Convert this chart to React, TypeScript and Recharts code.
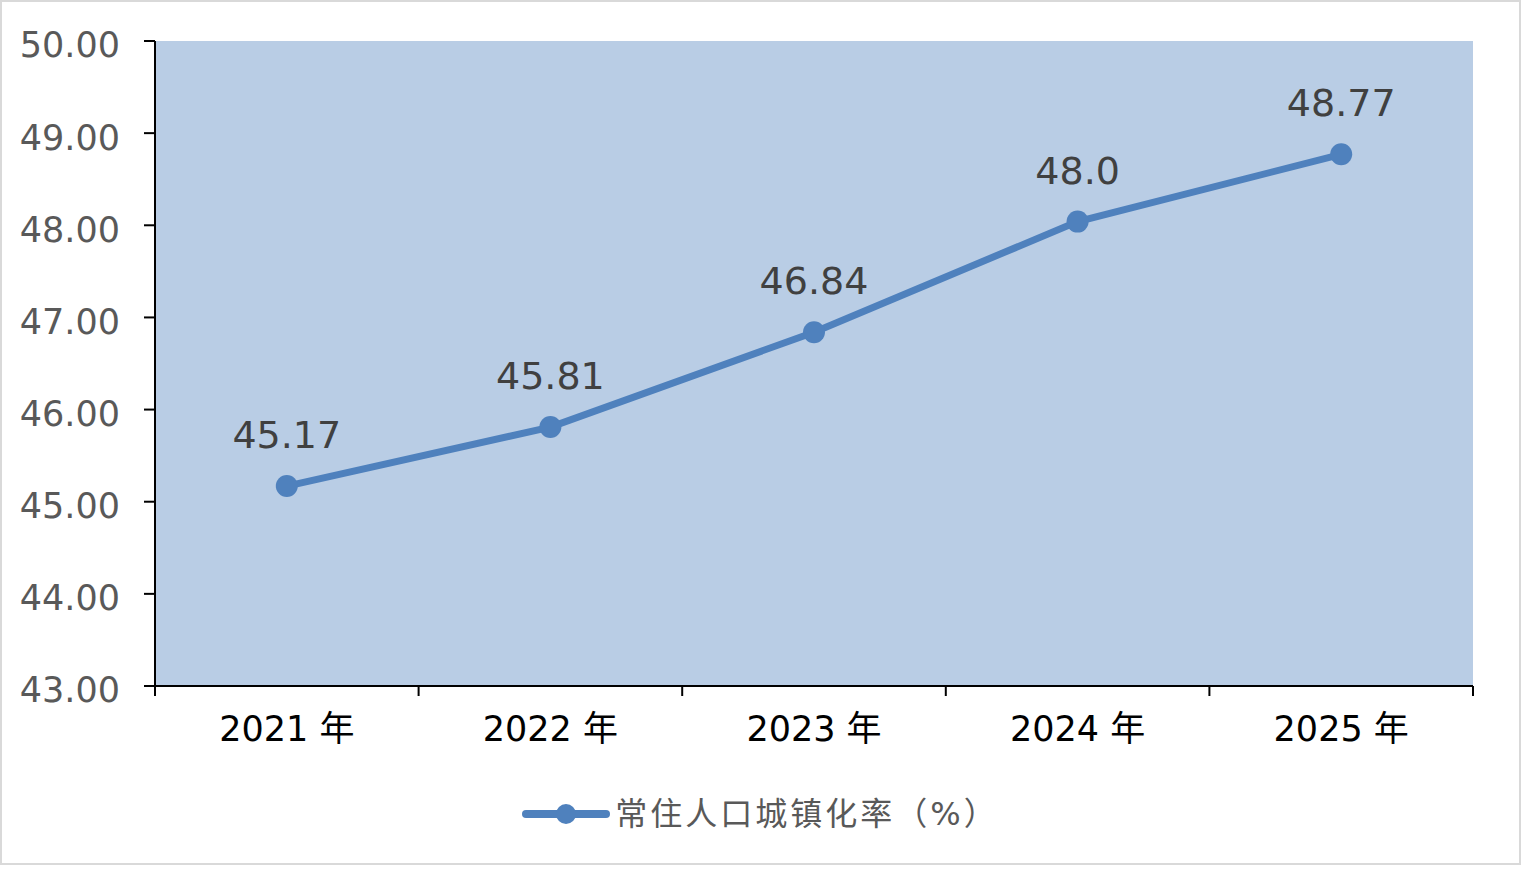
import React from 'react';
import { LineChart, Line, XAxis, YAxis, Legend, LabelList, CartesianGrid, Text } from 'recharts';

const years = ['2021 年', '2022 年', '2023 年', '2024 年', '2025 年'];
const rates = [45.17, 45.81, 46.84, 48.04, 48.77];
const rateLabels = ['45.17', '45.81', '46.84', '48.0', '48.77'];
const yTicks = [43, 44, 45, 46, 47, 48, 49, 50];
const seriesName = '常住人口城镇化率（%）';

const data = years.map((year, i) => ({ year, rate: rates[i], label: rateLabels[i] }));

const FONT = "'DejaVu Sans', 'Noto Sans CJK SC', sans-serif";
const BLUE = '#4f81bd';
const W = 1521;
const H = 865;

const CategoryTick = (props: any) => {
  const { x, y, payload, index, visibleTicksCount } = props;
  const half = payload && typeof payload.offset === 'number' ? payload.offset : 0;
  const axisY = y - 30;
  const isLast = index === (visibleTicksCount ?? years.length) - 1;
  return (
    <g>
      <line x1={x - half} y1={axisY} x2={x - half} y2={axisY + 10} stroke="#000" strokeWidth={2} />
      {isLast && <line x1={x + half} y1={axisY} x2={x + half} y2={axisY + 10} stroke="#000" strokeWidth={2} />}
      <Text x={x} y={y} textAnchor="middle" verticalAnchor="start" fill="#000" fontSize={35} fontFamily={FONT}>
        {payload.value}
      </Text>
    </g>
  );
};

const LegendContent = (props: any) => {
  const item = (props.payload && props.payload[0]) || { value: seriesName };
  return (
    <div style={{ display: 'flex', justifyContent: 'center', alignItems: 'center', height: 48 }}>
      <svg width={88} height={24} style={{ display: 'block' }}>
        <line x1={4} y1={12} x2={84} y2={12} stroke={BLUE} strokeWidth={8} strokeLinecap="round" />
        <circle cx={44} cy={12} r={10} fill={BLUE} />
      </svg>
      <span
        style={{
          marginLeft: 5,
          fontSize: 32,
          letterSpacing: 3,
          color: '#595959',
          fontFamily: FONT,
          lineHeight: '48px',
        }}
      >
        {item.value}
      </span>
    </div>
  );
};

export default function App() {
  return (
    <div style={{ position: 'absolute', left: 0, top: 0, width: 1524, height: 870, background: '#fff' }}>
      <div
        style={{
          position: 'absolute',
          left: 0,
          top: 0,
          width: W,
          height: H,
          boxSizing: 'border-box',
          border: '2px solid #d9d9d9',
        }}
      />
      <div style={{ position: 'absolute', left: 0, top: 0 }}>
        <LineChart
          width={W}
          height={H}
          data={data}
          margin={{ top: 41, right: 48, left: 0, bottom: 119 }}
          style={{ fontFamily: FONT }}
        >
          <CartesianGrid fill="#b9cde5" stroke="none" horizontal={false} vertical={false} />
          <XAxis
            dataKey="year"
            scale="band"
            height={60}
            axisLine={{ stroke: '#000', strokeWidth: 2 }}
            tickLine={false}
            tickSize={22}
            tickMargin={8}
            tick={<CategoryTick />}
            interval={0}
          />
          <YAxis
            width={155}
            domain={[43, 50]}
            ticks={yTicks}
            allowDataOverflow
            tickFormatter={(v: number) => v.toFixed(2)}
            axisLine={{ stroke: '#000', strokeWidth: 2 }}
            tickLine={{ stroke: '#000', strokeWidth: 2 }}
            tickSize={11}
            tickMargin={24}
            tick={{ fill: '#595959', fontSize: 35, fontFamily: FONT, dy: 4 }}
          />
          <Legend
            layout="horizontal"
            verticalAlign="middle"
            align="center"
            content={<LegendContent />}
            wrapperStyle={{ top: 790, left: 0, width: W, height: 48 }}
          />
          <Line
            type="linear"
            dataKey="rate"
            name={seriesName}
            stroke={BLUE}
            strokeWidth={7}
            dot={{ r: 11, fill: BLUE, stroke: 'none' }}
            activeDot={false}
            isAnimationActive={false}
          >
            <LabelList
              dataKey="label"
              position="top"
              offset={38}
              style={{ fill: '#404040', fontSize: 38, fontFamily: FONT }}
            />
          </Line>
        </LineChart>
      </div>
    </div>
  );
}
